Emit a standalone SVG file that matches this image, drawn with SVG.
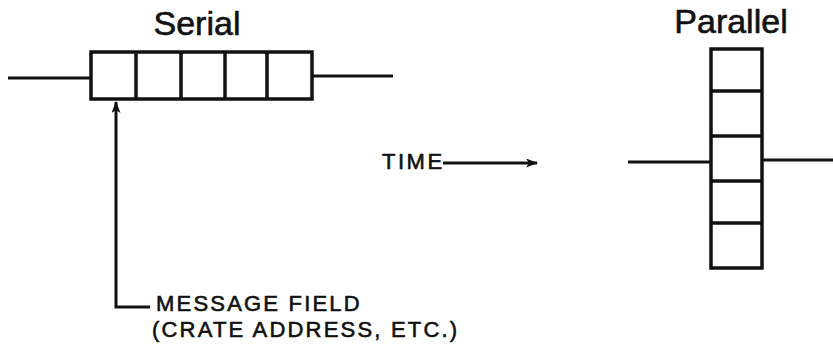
<svg xmlns="http://www.w3.org/2000/svg" width="833" height="347" viewBox="0 0 833 347">
<defs>
<style>
.t{font-family:"Liberation Sans",Arial,sans-serif;fill:#111;stroke:#111;stroke-width:0.6}
.b{fill:none;stroke:#111;stroke-width:3.5}
.l{fill:none;stroke:#111;stroke-width:3}
</style>
<marker id="ah" markerWidth="12" markerHeight="9" refX="11" refY="4.5" orient="auto" markerUnits="userSpaceOnUse">
<path d="M0,0 L12,4.5 L0,9 L3,4.5 Z" fill="#111"/>
</marker>
</defs>
<rect width="833" height="347" fill="#fff"/>
<g id="serial">
<text class="t" x="197" y="35" font-size="34" text-anchor="middle">Serial</text>
<rect class="b" x="91" y="52" width="221" height="47"/>
<path class="b" d="M136,52V99M181,52V99M225,52V99M267,52V99"/>
</g>
<g id="parallel">
<text class="t" x="731" y="33" font-size="34" text-anchor="middle">Parallel</text>
<rect class="b" x="711" y="49" width="51" height="219"/>
<path class="b" d="M711,91H762M711,136H762M711,181H762M711,223H762"/>
</g>
<g id="time">
<text class="t" x="382" y="169" font-size="22" letter-spacing="2.5">TIME</text>
</g>
<g id="message-field">
<text class="t" x="156" y="311" font-size="22" letter-spacing="2.2">MESSAGE FIELD</text>
<text class="t" x="152" y="337" font-size="22" letter-spacing="2.2">(CRATE ADDRESS, ETC.)</text>
</g>
<g id="connectors">
<path class="l" d="M8,78H91M312,76H393"/>
<path class="l" d="M628,162H711M762,160H833"/>
<path class="l" d="M443,163H537" marker-end="url(#ah)"/>
<path class="l" d="M150,307H116V102" marker-end="url(#ah)"/>
</g>
</svg>
